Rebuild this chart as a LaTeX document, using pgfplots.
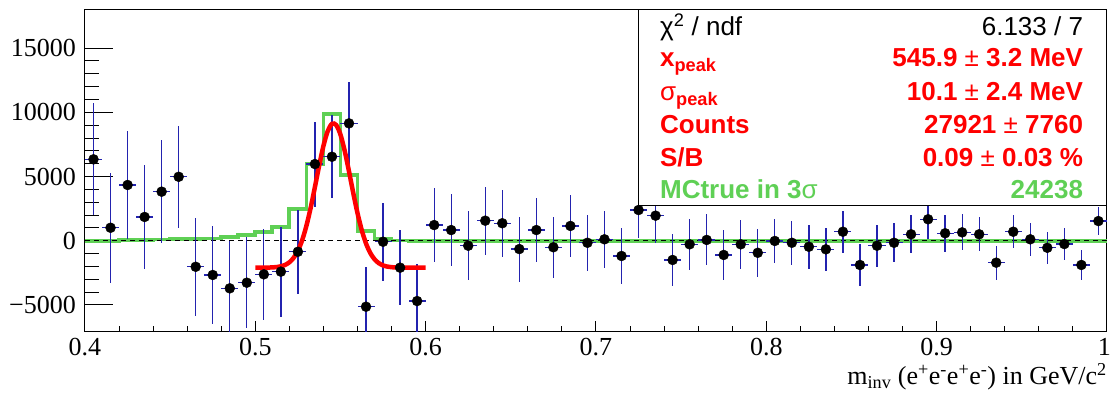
\documentclass[border=0pt]{standalone}
\usepackage{pgfplots}
\pgfplotsset{compat=1.18}
\usepackage{pgfplotstable}
\usepackage{fontspec}
\setmainfont{Liberation Serif}
\newfontfamily\helv{Liberation Sans}
\definecolor{ebblue}{RGB}{35,35,175}
\definecolor{mcgreen}{RGB}{95,208,85}
\definecolor{rootred}{RGB}{255,0,0}

\pgfplotstableread{
x y ey
0.405 6340 4350
0.415 1010 4280
0.425 4340 4180
0.435 1850 4050
0.445 3820 4020
0.455 4980 3960
0.465 -2030 3830
0.475 -2670 3800
0.485 -3710 3700
0.495 -3270 3530
0.505 -2620 3560
0.515 -2410 3500
0.525 -860 3270
0.535 5970 3310
0.545 6540 3220
0.555 9140 3190
0.565 -5140 3120
0.575 -80 3050
0.585 -2100 2920
0.595 -4700 2850
0.605 1220 2860
0.615 830 2830
0.625 -390 2690
0.635 1560 2640
0.645 1360 2600
0.655 -650 2530
0.665 830 2490
0.675 -510 2380
0.685 1150 2380
0.695 -160 2180
0.705 110 2230
0.715 -1190 2180
0.725 2390 2200
0.735 1950 2150
0.745 -1500 2030
0.755 -280 2010
0.765 60 1990
0.775 -1110 1920
0.785 -280 1910
0.795 -940 1860
0.805 -20 1750
0.815 -160 1700
0.825 -470 1710
0.835 -670 1660
0.845 700 1620
0.855 -1890 1600
0.865 -390 1620
0.875 -160 1520
0.885 500 1490
0.895 1670 1500
0.905 580 1440
0.915 650 1400
0.925 500 1320
0.935 -1710 1320
0.945 700 1300
0.955 110 1300
0.965 -550 1230
0.975 -260 1250
0.985 -1890 1170
0.995 1530 1120
}\datatable

\pgfplotstableread{
x y
0.40 0
0.41 0
0.42 60
0.43 70
0.44 90
0.45 110
0.46 150
0.47 180
0.48 300
0.49 450
0.50 650
0.51 1050
0.52 2450
0.53 5950
0.54 9870
0.55 5100
0.56 780
0.57 130
0.58 20
0.59 0
0.60 0
0.70 0
0.80 0
0.90 0
1.00 0
}\mctable

\pgfplotstableread{
x y
0.5000 -2100
0.5025 -2099
0.5050 -2097
0.5075 -2092
0.5100 -2080
0.5125 -2053
0.5150 -1995
0.5175 -1884
0.5200 -1680
0.5225 -1332
0.5250 -777
0.5275 41
0.5300 1159
0.5325 2567
0.5350 4187
0.5375 5859
0.5400 7386
0.5425 8530
0.5450 9105
0.5475 9009
0.5500 8260
0.5525 6987
0.5550 5397
0.5575 3717
0.5600 2146
0.5625 815
0.5650 -218
0.5675 -957
0.5700 -1447
0.5725 -1749
0.5750 -1923
0.5775 -2016
0.5800 -2062
0.5825 -2084
0.5850 -2094
0.5875 -2098
0.5900 -2100
0.6000 -2100
}\fittable

\begin{document}
\begin{tikzpicture}
\useasboundingbox (-85pt,-61pt) rectangle (1026pt,332pt);
\begin{axis}[
  at={(0pt,0pt)}, anchor=south west,
  scale only axis, width=1022pt, height=322pt,
  xmin=0.4, xmax=1.0, ymin=-7110, ymax=17970,
  scaled x ticks=false, scaled y ticks=false,
  xtick={0.4,0.5,0.6,0.7,0.8,0.9,1.0},
  xticklabels={0.4,0.5,0.6,0.7,0.8,0.9,1\hspace*{5pt}},
  ytick={-5000,0,5000,10000,15000},
  yticklabels={−5000,0,5000,10000,15000},
  minor x tick num=4, minor y tick num=4,
  tick pos=left, tick align=inside,
  xtick style={/pgfplots/major tick length=11pt,/pgfplots/minor tick length=6pt,line width=1pt,black},
  ytick style={/pgfplots/major tick length=28pt,/pgfplots/minor tick length=14pt,line width=1pt,black},
  axis line style={line width=1pt,black},
  ticklabel style={font=\fontsize{26}{30}\selectfont},
  yticklabel style={inner sep=0pt, xshift=-9pt},
  xticklabel style={inner sep=0pt, yshift=-6pt},
  xlabel={m\textsubscript{inv} (e\textsuperscript{+}e\textsuperscript{-}e\textsuperscript{+}e\textsuperscript{-}) in GeV/c\textsuperscript{2}},
  xlabel style={at={(rel axis cs:1,0)}, anchor=base east, inner sep=0pt, yshift=-53pt, font=\fontsize{26}{30}\selectfont},
  clip=true,
]
\addplot[mcgreen, line width=3.8pt, const plot mark left] table[x=x,y=y] {\mctable};
\addplot[black, dashed, line width=1.2pt, dash pattern=on 5pt off 4pt] coordinates {(0.4,0) (1.0,0)};
\addplot[only marks, mark=*, mark size=5pt, black,
  error bars/.cd, x dir=both, x fixed=0.005, y dir=both, y explicit,
  error mark=none, error bar style={ebblue, line width=1.3pt}]
  table[x=x, y=y, y error=ey] {\datatable};
\addplot[rootred, line width=4.5pt, smooth] table[x=x,y=y] {\fittable};
% stats box
\fill[white] (rel axis cs:0.5414,0.3944) rectangle (rel axis cs:1,1);
\draw[line width=1pt, black] (rel axis cs:0.5414,0.3944) rectangle (rel axis cs:1,1);
\begin{scope}[every node/.style={inner sep=0pt, font=\helv\fontsize{26}{30}\selectfont}]
\node[anchor=base west, black] at (rel axis cs:0.5626,0.9193) {χ\textsuperscript{2} / ndf};
\node[anchor=base east, black] at (rel axis cs:0.9768,0.9193) {6.133 / 7};
\node[anchor=base west, rootred] at (rel axis cs:0.5626,0.8239) {\bfseries x\textsubscript{peak}};
\node[anchor=base east, rootred] at (rel axis cs:0.9768,0.8239) {\bfseries 545.9 {\mdseries ±} 3.2 MeV};
\node[anchor=base west, rootred] at (rel axis cs:0.5626,0.7183) {σ\textsubscript{\bfseries peak}};
\node[anchor=base east, rootred] at (rel axis cs:0.9768,0.7183) {\bfseries 10.1 {\mdseries ±} 2.4 MeV};
\node[anchor=base west, rootred] at (rel axis cs:0.5626,0.6171) {\bfseries Counts};
\node[anchor=base east, rootred] at (rel axis cs:0.9768,0.6171) {\bfseries 27921 {\mdseries ±} 7760};
\node[anchor=base west, rootred] at (rel axis cs:0.5626,0.5134) {\bfseries S/B};
\node[anchor=base east, rootred] at (rel axis cs:0.9768,0.5134) {\bfseries 0.09 {\mdseries ±} 0.03 \%};
\node[anchor=base west, mcgreen] at (rel axis cs:0.5626,0.4152) {\bfseries MCtrue in 3{\mdseries σ}};
\node[anchor=base east, mcgreen] at (rel axis cs:0.9768,0.4152) {\bfseries 24238};
\end{scope}
\end{axis}
\end{tikzpicture}
\end{document}
